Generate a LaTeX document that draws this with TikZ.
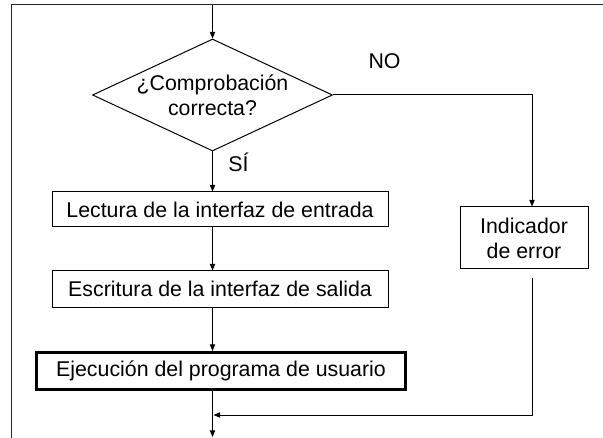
\documentclass[tikz,border=0pt]{standalone}
\usepackage{fontspec}
\setmainfont{Liberation Sans}
\usetikzlibrary{shapes.geometric,arrows.meta}
\begin{document}
\begin{tikzpicture}[x=0.75pt,y=-0.75pt,
  every node/.style={font=\fontsize{16}{18.75}\selectfont},
  ln/.style={line width=0.75pt},
  arr/.style={ln,-{Triangle[length=5pt,width=4pt]}},
  boxn/.style={draw,ln,rectangle,inner sep=0pt,align=center},
  thickbox/.style={draw,line width=2.25pt,rectangle,inner sep=0pt,align=center},
  dia/.style={draw,ln,diamond,inner sep=0pt,minimum width=180pt,minimum height=84pt},
  lbl/.style={inner sep=0pt}]
\useasboundingbox (0,0) rectangle (603,438);
% frame
\draw[ln,black!85] (11,438) -- (11,5) -- (603,5);
% nodes
\node[dia] (D) at (212.5,95) {};
\node[lbl,align=center] (Dt) at (D.center) {¿Comprobación\\correcta?};
\node[boxn,minimum width=252pt,minimum height=26.25pt] (L) at (220,209.5) {Lectura de la interfaz de entrada};
\node[boxn,minimum width=252pt,minimum height=27pt] (E) at (220,289) {Escritura de la interfaz de salida};
\node[thickbox,minimum width=276.75pt,minimum height=27.75pt] (X) at (221,371) {Ejecución del programa de usuario};
\node[boxn,minimum width=96pt,minimum height=46.5pt] (I) at (524,238) {Indicador\\de error};
\node[lbl] (no) at (384.5,61) {NO};
\node[lbl] (si) at (238.5,162) {SÍ};
% coordinates
\coordinate (top) at (212.5,5);
\coordinate (nr) at (532,95);
\coordinate (ib) at (532,278);
\coordinate (jr) at (532,415);
\coordinate (jl) at (213.5,415);
\coordinate (bot) at (212.5,437);
% connectors
\draw[arr] (top) -- (D.north);
\draw[arr] (D.south) -- (D.south |- L.north);
\draw[arr] (D.south |- L.south) -- (D.south |- E.north);
\draw[arr] (D.south |- E.south) -- (D.south |- X.north);
\draw[arr] (D.east) -- (nr) -- (nr |- I.north);
\draw[arr] (ib) -- (jr) -- (jl);
\draw[arr] (D.south |- X.south) -- (bot);
\end{tikzpicture}
\end{document}
